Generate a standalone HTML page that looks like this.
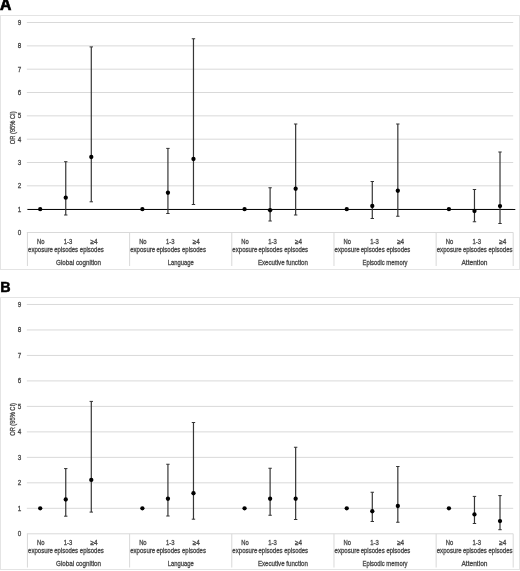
<!DOCTYPE html>
<html><head><meta charset="utf-8"><title>Figure</title>
<style>html,body{margin:0;padding:0;background:#fff;}body{width:520px;height:571px;overflow:hidden;font-family:"Liberation Sans",sans-serif;}svg{display:block;will-change:transform;opacity:0.999;}</style>
</head><body>
<svg width="520" height="571" viewBox="0 0 520 571">
<rect width="520" height="571" fill="#fff"/>
<text transform="translate(0.1,10.3) scale(1.0,1)" font-size="15.7" fill="#000" stroke="#000" stroke-width="0.7" font-weight="bold" font-family="Liberation Sans, sans-serif">A</text>
<rect x="0.5" y="15.5" width="519" height="254.00" fill="#fff" stroke="#e4e4e4" stroke-width="1"/>
<line x1="26.83" x2="513.20" y1="232.50" y2="232.50" stroke="#d9d9d9" stroke-width="1"/>
<text x="19.60" y="235.00" font-size="7" fill="#484848" text-anchor="middle" stroke="#484848" stroke-width="0.3" font-family="Liberation Sans, sans-serif" textLength="3.5" lengthAdjust="spacingAndGlyphs" >0</text>
<line x1="26.83" x2="513.20" y1="209.17" y2="209.17" stroke="#d9d9d9" stroke-width="1"/>
<text x="19.60" y="211.67" font-size="7" fill="#484848" text-anchor="middle" stroke="#484848" stroke-width="0.3" font-family="Liberation Sans, sans-serif" textLength="3.5" lengthAdjust="spacingAndGlyphs" >1</text>
<line x1="26.83" x2="513.20" y1="185.84" y2="185.84" stroke="#d9d9d9" stroke-width="1"/>
<text x="19.60" y="188.34" font-size="7" fill="#484848" text-anchor="middle" stroke="#484848" stroke-width="0.3" font-family="Liberation Sans, sans-serif" textLength="3.5" lengthAdjust="spacingAndGlyphs" >2</text>
<line x1="26.83" x2="513.20" y1="162.51" y2="162.51" stroke="#d9d9d9" stroke-width="1"/>
<text x="19.60" y="165.01" font-size="7" fill="#484848" text-anchor="middle" stroke="#484848" stroke-width="0.3" font-family="Liberation Sans, sans-serif" textLength="3.5" lengthAdjust="spacingAndGlyphs" >3</text>
<line x1="26.83" x2="513.20" y1="139.18" y2="139.18" stroke="#d9d9d9" stroke-width="1"/>
<text x="19.60" y="141.68" font-size="7" fill="#484848" text-anchor="middle" stroke="#484848" stroke-width="0.3" font-family="Liberation Sans, sans-serif" textLength="3.5" lengthAdjust="spacingAndGlyphs" >4</text>
<line x1="26.83" x2="513.20" y1="115.85" y2="115.85" stroke="#d9d9d9" stroke-width="1"/>
<text x="19.60" y="118.35" font-size="7" fill="#484848" text-anchor="middle" stroke="#484848" stroke-width="0.3" font-family="Liberation Sans, sans-serif" textLength="3.5" lengthAdjust="spacingAndGlyphs" >5</text>
<line x1="26.83" x2="513.20" y1="92.52" y2="92.52" stroke="#d9d9d9" stroke-width="1"/>
<text x="19.60" y="95.02" font-size="7" fill="#484848" text-anchor="middle" stroke="#484848" stroke-width="0.3" font-family="Liberation Sans, sans-serif" textLength="3.5" lengthAdjust="spacingAndGlyphs" >6</text>
<line x1="26.83" x2="513.20" y1="69.19" y2="69.19" stroke="#d9d9d9" stroke-width="1"/>
<text x="19.60" y="71.69" font-size="7" fill="#484848" text-anchor="middle" stroke="#484848" stroke-width="0.3" font-family="Liberation Sans, sans-serif" textLength="3.5" lengthAdjust="spacingAndGlyphs" >7</text>
<line x1="26.83" x2="513.20" y1="45.86" y2="45.86" stroke="#d9d9d9" stroke-width="1"/>
<text x="19.60" y="48.36" font-size="7" fill="#484848" text-anchor="middle" stroke="#484848" stroke-width="0.3" font-family="Liberation Sans, sans-serif" textLength="3.5" lengthAdjust="spacingAndGlyphs" >8</text>
<line x1="26.83" x2="513.20" y1="22.53" y2="22.53" stroke="#d9d9d9" stroke-width="1"/>
<text x="19.60" y="25.03" font-size="7" fill="#484848" text-anchor="middle" stroke="#484848" stroke-width="0.3" font-family="Liberation Sans, sans-serif" textLength="3.5" lengthAdjust="spacingAndGlyphs" >9</text>
<text transform="translate(14.8,127.82) rotate(-90)" font-size="7" fill="#484848" stroke="#484848" stroke-width="0.3" text-anchor="middle" font-family="Liberation Sans, sans-serif" textLength="32.8" lengthAdjust="spacingAndGlyphs">OR (95% CI)</text>
<line x1="27.43" x2="27.43" y1="232.50" y2="266.0" stroke="#d9d9d9" stroke-width="1"/>
<line x1="129.61" x2="129.61" y1="232.50" y2="266.0" stroke="#d9d9d9" stroke-width="1"/>
<line x1="231.79" x2="231.79" y1="232.50" y2="266.0" stroke="#d9d9d9" stroke-width="1"/>
<line x1="333.97" x2="333.97" y1="232.50" y2="266.0" stroke="#d9d9d9" stroke-width="1"/>
<line x1="436.15" x2="436.15" y1="232.50" y2="266.0" stroke="#d9d9d9" stroke-width="1"/>
<line x1="513.20" x2="513.20" y1="232.50" y2="266.0" stroke="#d9d9d9" stroke-width="1"/>
<text x="40.70" y="244.00" font-size="7" fill="#484848" text-anchor="middle" stroke="#484848" stroke-width="0.3" font-family="Liberation Sans, sans-serif" textLength="7.5" lengthAdjust="spacingAndGlyphs" >No</text>
<text x="40.50" y="252.40" font-size="7" fill="#484848" text-anchor="middle" stroke="#484848" stroke-width="0.3" font-family="Liberation Sans, sans-serif" textLength="25.0" lengthAdjust="spacingAndGlyphs" >exposure</text>
<text x="68.05" y="244.00" font-size="7" fill="#484848" text-anchor="middle" stroke="#484848" stroke-width="0.3" font-family="Liberation Sans, sans-serif" textLength="8.5" lengthAdjust="spacingAndGlyphs" >1-3</text>
<text x="66.15" y="252.40" font-size="7" fill="#484848" text-anchor="middle" stroke="#484848" stroke-width="0.3" font-family="Liberation Sans, sans-serif" textLength="23.9" lengthAdjust="spacingAndGlyphs" >episodes</text>
<text x="94.09" y="244.00" font-size="7" fill="#484848" text-anchor="middle" stroke="#484848" stroke-width="0.3" font-family="Liberation Sans, sans-serif" textLength="7" lengthAdjust="spacingAndGlyphs" >≥4</text>
<text x="91.79" y="252.40" font-size="7" fill="#484848" text-anchor="middle" stroke="#484848" stroke-width="0.3" font-family="Liberation Sans, sans-serif" textLength="23.9" lengthAdjust="spacingAndGlyphs" >episodes</text>
<text x="78.52" y="264.90" font-size="7" fill="#484848" text-anchor="middle" stroke="#484848" stroke-width="0.3" font-family="Liberation Sans, sans-serif" textLength="45" lengthAdjust="spacingAndGlyphs" >Global cognition</text>
<text x="142.88" y="244.00" font-size="7" fill="#484848" text-anchor="middle" stroke="#484848" stroke-width="0.3" font-family="Liberation Sans, sans-serif" textLength="7.5" lengthAdjust="spacingAndGlyphs" >No</text>
<text x="142.68" y="252.40" font-size="7" fill="#484848" text-anchor="middle" stroke="#484848" stroke-width="0.3" font-family="Liberation Sans, sans-serif" textLength="25.0" lengthAdjust="spacingAndGlyphs" >exposure</text>
<text x="170.23" y="244.00" font-size="7" fill="#484848" text-anchor="middle" stroke="#484848" stroke-width="0.3" font-family="Liberation Sans, sans-serif" textLength="8.5" lengthAdjust="spacingAndGlyphs" >1-3</text>
<text x="168.33" y="252.40" font-size="7" fill="#484848" text-anchor="middle" stroke="#484848" stroke-width="0.3" font-family="Liberation Sans, sans-serif" textLength="23.9" lengthAdjust="spacingAndGlyphs" >episodes</text>
<text x="196.27" y="244.00" font-size="7" fill="#484848" text-anchor="middle" stroke="#484848" stroke-width="0.3" font-family="Liberation Sans, sans-serif" textLength="7" lengthAdjust="spacingAndGlyphs" >≥4</text>
<text x="193.97" y="252.40" font-size="7" fill="#484848" text-anchor="middle" stroke="#484848" stroke-width="0.3" font-family="Liberation Sans, sans-serif" textLength="23.9" lengthAdjust="spacingAndGlyphs" >episodes</text>
<text x="180.70" y="264.90" font-size="7" fill="#484848" text-anchor="middle" stroke="#484848" stroke-width="0.3" font-family="Liberation Sans, sans-serif" textLength="26" lengthAdjust="spacingAndGlyphs" >Language</text>
<text x="245.06" y="244.00" font-size="7" fill="#484848" text-anchor="middle" stroke="#484848" stroke-width="0.3" font-family="Liberation Sans, sans-serif" textLength="7.5" lengthAdjust="spacingAndGlyphs" >No</text>
<text x="244.86" y="252.40" font-size="7" fill="#484848" text-anchor="middle" stroke="#484848" stroke-width="0.3" font-family="Liberation Sans, sans-serif" textLength="25.0" lengthAdjust="spacingAndGlyphs" >exposure</text>
<text x="272.41" y="244.00" font-size="7" fill="#484848" text-anchor="middle" stroke="#484848" stroke-width="0.3" font-family="Liberation Sans, sans-serif" textLength="8.5" lengthAdjust="spacingAndGlyphs" >1-3</text>
<text x="270.50" y="252.40" font-size="7" fill="#484848" text-anchor="middle" stroke="#484848" stroke-width="0.3" font-family="Liberation Sans, sans-serif" textLength="23.9" lengthAdjust="spacingAndGlyphs" >episodes</text>
<text x="298.45" y="244.00" font-size="7" fill="#484848" text-anchor="middle" stroke="#484848" stroke-width="0.3" font-family="Liberation Sans, sans-serif" textLength="7" lengthAdjust="spacingAndGlyphs" >≥4</text>
<text x="296.15" y="252.40" font-size="7" fill="#484848" text-anchor="middle" stroke="#484848" stroke-width="0.3" font-family="Liberation Sans, sans-serif" textLength="23.9" lengthAdjust="spacingAndGlyphs" >episodes</text>
<text x="282.88" y="264.90" font-size="7" fill="#484848" text-anchor="middle" stroke="#484848" stroke-width="0.3" font-family="Liberation Sans, sans-serif" textLength="50" lengthAdjust="spacingAndGlyphs" >Executive function</text>
<text x="347.24" y="244.00" font-size="7" fill="#484848" text-anchor="middle" stroke="#484848" stroke-width="0.3" font-family="Liberation Sans, sans-serif" textLength="7.5" lengthAdjust="spacingAndGlyphs" >No</text>
<text x="347.04" y="252.40" font-size="7" fill="#484848" text-anchor="middle" stroke="#484848" stroke-width="0.3" font-family="Liberation Sans, sans-serif" textLength="25.0" lengthAdjust="spacingAndGlyphs" >exposure</text>
<text x="374.59" y="244.00" font-size="7" fill="#484848" text-anchor="middle" stroke="#484848" stroke-width="0.3" font-family="Liberation Sans, sans-serif" textLength="8.5" lengthAdjust="spacingAndGlyphs" >1-3</text>
<text x="372.69" y="252.40" font-size="7" fill="#484848" text-anchor="middle" stroke="#484848" stroke-width="0.3" font-family="Liberation Sans, sans-serif" textLength="23.9" lengthAdjust="spacingAndGlyphs" >episodes</text>
<text x="400.63" y="244.00" font-size="7" fill="#484848" text-anchor="middle" stroke="#484848" stroke-width="0.3" font-family="Liberation Sans, sans-serif" textLength="7" lengthAdjust="spacingAndGlyphs" >≥4</text>
<text x="398.33" y="252.40" font-size="7" fill="#484848" text-anchor="middle" stroke="#484848" stroke-width="0.3" font-family="Liberation Sans, sans-serif" textLength="23.9" lengthAdjust="spacingAndGlyphs" >episodes</text>
<text x="385.06" y="264.90" font-size="7" fill="#484848" text-anchor="middle" stroke="#484848" stroke-width="0.3" font-family="Liberation Sans, sans-serif" textLength="45" lengthAdjust="spacingAndGlyphs" >Episodic memory</text>
<text x="449.42" y="244.00" font-size="7" fill="#484848" text-anchor="middle" stroke="#484848" stroke-width="0.3" font-family="Liberation Sans, sans-serif" textLength="7.5" lengthAdjust="spacingAndGlyphs" >No</text>
<text x="449.22" y="252.40" font-size="7" fill="#484848" text-anchor="middle" stroke="#484848" stroke-width="0.3" font-family="Liberation Sans, sans-serif" textLength="25.0" lengthAdjust="spacingAndGlyphs" >exposure</text>
<text x="476.77" y="244.00" font-size="7" fill="#484848" text-anchor="middle" stroke="#484848" stroke-width="0.3" font-family="Liberation Sans, sans-serif" textLength="8.5" lengthAdjust="spacingAndGlyphs" >1-3</text>
<text x="474.87" y="252.40" font-size="7" fill="#484848" text-anchor="middle" stroke="#484848" stroke-width="0.3" font-family="Liberation Sans, sans-serif" textLength="23.9" lengthAdjust="spacingAndGlyphs" >episodes</text>
<text x="502.81" y="244.00" font-size="7" fill="#484848" text-anchor="middle" stroke="#484848" stroke-width="0.3" font-family="Liberation Sans, sans-serif" textLength="7" lengthAdjust="spacingAndGlyphs" >≥4</text>
<text x="500.51" y="252.40" font-size="7" fill="#484848" text-anchor="middle" stroke="#484848" stroke-width="0.3" font-family="Liberation Sans, sans-serif" textLength="23.9" lengthAdjust="spacingAndGlyphs" >episodes</text>
<text x="474.47" y="264.90" font-size="7" fill="#484848" text-anchor="middle" stroke="#484848" stroke-width="0.3" font-family="Liberation Sans, sans-serif" textLength="26" lengthAdjust="spacingAndGlyphs" >Attention</text>
<line x1="27.43" x2="515.3" y1="209.50" y2="209.50" stroke="#0a0a0a" stroke-width="1"/>
<circle cx="40.20" cy="209.17" r="2.15" fill="#000"/>
<circle cx="142.38" cy="209.17" r="2.15" fill="#000"/>
<circle cx="244.56" cy="209.17" r="2.15" fill="#000"/>
<circle cx="346.74" cy="209.17" r="2.15" fill="#000"/>
<circle cx="448.92" cy="209.17" r="2.15" fill="#000"/>
<line x1="65.75" x2="65.75" y1="161.70" y2="215.00" stroke="#363636" stroke-width="1.2"/>
<line x1="64.05" x2="67.45" y1="161.70" y2="161.70" stroke="#333" stroke-width="1"/>
<line x1="64.05" x2="67.45" y1="215.00" y2="215.00" stroke="#333" stroke-width="1"/>
<circle cx="65.75" cy="197.70" r="2.15" fill="#000"/>
<line x1="91.29" x2="91.29" y1="46.90" y2="201.80" stroke="#363636" stroke-width="1.2"/>
<line x1="89.59" x2="92.99" y1="46.90" y2="46.90" stroke="#333" stroke-width="1"/>
<line x1="89.59" x2="92.99" y1="201.80" y2="201.80" stroke="#333" stroke-width="1"/>
<circle cx="91.29" cy="157.00" r="2.15" fill="#000"/>
<line x1="167.93" x2="167.93" y1="148.40" y2="213.50" stroke="#363636" stroke-width="1.2"/>
<line x1="166.23" x2="169.62" y1="148.40" y2="148.40" stroke="#333" stroke-width="1"/>
<line x1="166.23" x2="169.62" y1="213.50" y2="213.50" stroke="#333" stroke-width="1"/>
<circle cx="167.93" cy="192.75" r="2.15" fill="#000"/>
<line x1="193.47" x2="193.47" y1="38.75" y2="204.50" stroke="#363636" stroke-width="1.2"/>
<line x1="191.77" x2="195.17" y1="38.75" y2="38.75" stroke="#333" stroke-width="1"/>
<line x1="191.77" x2="195.17" y1="204.50" y2="204.50" stroke="#333" stroke-width="1"/>
<circle cx="193.47" cy="159.00" r="2.15" fill="#000"/>
<line x1="270.11" x2="270.11" y1="187.75" y2="221.00" stroke="#363636" stroke-width="1.2"/>
<line x1="268.41" x2="271.81" y1="187.75" y2="187.75" stroke="#333" stroke-width="1"/>
<line x1="268.41" x2="271.81" y1="221.00" y2="221.00" stroke="#333" stroke-width="1"/>
<circle cx="270.11" cy="210.25" r="2.15" fill="#000"/>
<line x1="295.65" x2="295.65" y1="124.00" y2="215.00" stroke="#363636" stroke-width="1.2"/>
<line x1="293.95" x2="297.35" y1="124.00" y2="124.00" stroke="#333" stroke-width="1"/>
<line x1="293.95" x2="297.35" y1="215.00" y2="215.00" stroke="#333" stroke-width="1"/>
<circle cx="295.65" cy="188.75" r="2.15" fill="#000"/>
<line x1="372.29" x2="372.29" y1="181.50" y2="218.50" stroke="#363636" stroke-width="1.2"/>
<line x1="370.59" x2="373.99" y1="181.50" y2="181.50" stroke="#333" stroke-width="1"/>
<line x1="370.59" x2="373.99" y1="218.50" y2="218.50" stroke="#333" stroke-width="1"/>
<circle cx="372.29" cy="206.00" r="2.15" fill="#000"/>
<line x1="397.83" x2="397.83" y1="124.00" y2="216.25" stroke="#363636" stroke-width="1.2"/>
<line x1="396.13" x2="399.53" y1="124.00" y2="124.00" stroke="#333" stroke-width="1"/>
<line x1="396.13" x2="399.53" y1="216.25" y2="216.25" stroke="#333" stroke-width="1"/>
<circle cx="397.83" cy="190.75" r="2.15" fill="#000"/>
<line x1="474.47" x2="474.47" y1="189.50" y2="221.75" stroke="#363636" stroke-width="1.2"/>
<line x1="472.77" x2="476.17" y1="189.50" y2="189.50" stroke="#333" stroke-width="1"/>
<line x1="472.77" x2="476.17" y1="221.75" y2="221.75" stroke="#333" stroke-width="1"/>
<circle cx="474.47" cy="211.00" r="2.15" fill="#000"/>
<line x1="500.01" x2="500.01" y1="152.00" y2="223.50" stroke="#363636" stroke-width="1.2"/>
<line x1="498.31" x2="501.71" y1="152.00" y2="152.00" stroke="#333" stroke-width="1"/>
<line x1="498.31" x2="501.71" y1="223.50" y2="223.50" stroke="#333" stroke-width="1"/>
<circle cx="500.01" cy="206.10" r="2.15" fill="#000"/>
<text transform="translate(0.3,291.6) scale(0.95,1)" font-size="15.1" fill="#000" stroke="#000" stroke-width="0.5" font-weight="bold" font-family="Liberation Sans, sans-serif">B</text>
<rect x="0.5" y="297.5" width="519" height="272.00" fill="#fff" stroke="#e4e4e4" stroke-width="1"/>
<line x1="26.83" x2="513.20" y1="533.80" y2="533.80" stroke="#d9d9d9" stroke-width="1"/>
<text x="19.60" y="536.30" font-size="7" fill="#484848" text-anchor="middle" stroke="#484848" stroke-width="0.3" font-family="Liberation Sans, sans-serif" textLength="3.5" lengthAdjust="spacingAndGlyphs" >0</text>
<line x1="26.83" x2="513.20" y1="508.32" y2="508.32" stroke="#d9d9d9" stroke-width="1"/>
<text x="19.60" y="510.82" font-size="7" fill="#484848" text-anchor="middle" stroke="#484848" stroke-width="0.3" font-family="Liberation Sans, sans-serif" textLength="3.5" lengthAdjust="spacingAndGlyphs" >1</text>
<line x1="26.83" x2="513.20" y1="482.84" y2="482.84" stroke="#d9d9d9" stroke-width="1"/>
<text x="19.60" y="485.34" font-size="7" fill="#484848" text-anchor="middle" stroke="#484848" stroke-width="0.3" font-family="Liberation Sans, sans-serif" textLength="3.5" lengthAdjust="spacingAndGlyphs" >2</text>
<line x1="26.83" x2="513.20" y1="457.36" y2="457.36" stroke="#d9d9d9" stroke-width="1"/>
<text x="19.60" y="459.86" font-size="7" fill="#484848" text-anchor="middle" stroke="#484848" stroke-width="0.3" font-family="Liberation Sans, sans-serif" textLength="3.5" lengthAdjust="spacingAndGlyphs" >3</text>
<line x1="26.83" x2="513.20" y1="431.88" y2="431.88" stroke="#d9d9d9" stroke-width="1"/>
<text x="19.60" y="434.38" font-size="7" fill="#484848" text-anchor="middle" stroke="#484848" stroke-width="0.3" font-family="Liberation Sans, sans-serif" textLength="3.5" lengthAdjust="spacingAndGlyphs" >4</text>
<line x1="26.83" x2="513.20" y1="406.40" y2="406.40" stroke="#d9d9d9" stroke-width="1"/>
<text x="19.60" y="408.90" font-size="7" fill="#484848" text-anchor="middle" stroke="#484848" stroke-width="0.3" font-family="Liberation Sans, sans-serif" textLength="3.5" lengthAdjust="spacingAndGlyphs" >5</text>
<line x1="26.83" x2="513.20" y1="380.92" y2="380.92" stroke="#d9d9d9" stroke-width="1"/>
<text x="19.60" y="383.42" font-size="7" fill="#484848" text-anchor="middle" stroke="#484848" stroke-width="0.3" font-family="Liberation Sans, sans-serif" textLength="3.5" lengthAdjust="spacingAndGlyphs" >6</text>
<line x1="26.83" x2="513.20" y1="355.44" y2="355.44" stroke="#d9d9d9" stroke-width="1"/>
<text x="19.60" y="357.94" font-size="7" fill="#484848" text-anchor="middle" stroke="#484848" stroke-width="0.3" font-family="Liberation Sans, sans-serif" textLength="3.5" lengthAdjust="spacingAndGlyphs" >7</text>
<line x1="26.83" x2="513.20" y1="329.96" y2="329.96" stroke="#d9d9d9" stroke-width="1"/>
<text x="19.60" y="332.46" font-size="7" fill="#484848" text-anchor="middle" stroke="#484848" stroke-width="0.3" font-family="Liberation Sans, sans-serif" textLength="3.5" lengthAdjust="spacingAndGlyphs" >8</text>
<line x1="26.83" x2="513.20" y1="304.48" y2="304.48" stroke="#d9d9d9" stroke-width="1"/>
<text x="19.60" y="306.98" font-size="7" fill="#484848" text-anchor="middle" stroke="#484848" stroke-width="0.3" font-family="Liberation Sans, sans-serif" textLength="3.5" lengthAdjust="spacingAndGlyphs" >9</text>
<text transform="translate(14.8,419.44) rotate(-90)" font-size="7" fill="#484848" stroke="#484848" stroke-width="0.3" text-anchor="middle" font-family="Liberation Sans, sans-serif" textLength="32.8" lengthAdjust="spacingAndGlyphs">OR (95% CI)</text>
<line x1="27.43" x2="27.43" y1="533.80" y2="567.5" stroke="#d9d9d9" stroke-width="1"/>
<line x1="129.61" x2="129.61" y1="533.80" y2="567.5" stroke="#d9d9d9" stroke-width="1"/>
<line x1="231.79" x2="231.79" y1="533.80" y2="567.5" stroke="#d9d9d9" stroke-width="1"/>
<line x1="333.97" x2="333.97" y1="533.80" y2="567.5" stroke="#d9d9d9" stroke-width="1"/>
<line x1="436.15" x2="436.15" y1="533.80" y2="567.5" stroke="#d9d9d9" stroke-width="1"/>
<line x1="513.20" x2="513.20" y1="533.80" y2="567.5" stroke="#d9d9d9" stroke-width="1"/>
<text x="40.70" y="544.70" font-size="7" fill="#484848" text-anchor="middle" stroke="#484848" stroke-width="0.3" font-family="Liberation Sans, sans-serif" textLength="7.5" lengthAdjust="spacingAndGlyphs" >No</text>
<text x="40.50" y="552.90" font-size="7" fill="#484848" text-anchor="middle" stroke="#484848" stroke-width="0.3" font-family="Liberation Sans, sans-serif" textLength="25.0" lengthAdjust="spacingAndGlyphs" >exposure</text>
<text x="68.05" y="544.70" font-size="7" fill="#484848" text-anchor="middle" stroke="#484848" stroke-width="0.3" font-family="Liberation Sans, sans-serif" textLength="8.5" lengthAdjust="spacingAndGlyphs" >1-3</text>
<text x="66.15" y="552.90" font-size="7" fill="#484848" text-anchor="middle" stroke="#484848" stroke-width="0.3" font-family="Liberation Sans, sans-serif" textLength="23.9" lengthAdjust="spacingAndGlyphs" >episodes</text>
<text x="94.09" y="544.70" font-size="7" fill="#484848" text-anchor="middle" stroke="#484848" stroke-width="0.3" font-family="Liberation Sans, sans-serif" textLength="7" lengthAdjust="spacingAndGlyphs" >≥4</text>
<text x="91.79" y="552.90" font-size="7" fill="#484848" text-anchor="middle" stroke="#484848" stroke-width="0.3" font-family="Liberation Sans, sans-serif" textLength="23.9" lengthAdjust="spacingAndGlyphs" >episodes</text>
<text x="78.52" y="565.70" font-size="7" fill="#484848" text-anchor="middle" stroke="#484848" stroke-width="0.3" font-family="Liberation Sans, sans-serif" textLength="45" lengthAdjust="spacingAndGlyphs" >Global cognition</text>
<text x="142.88" y="544.70" font-size="7" fill="#484848" text-anchor="middle" stroke="#484848" stroke-width="0.3" font-family="Liberation Sans, sans-serif" textLength="7.5" lengthAdjust="spacingAndGlyphs" >No</text>
<text x="142.68" y="552.90" font-size="7" fill="#484848" text-anchor="middle" stroke="#484848" stroke-width="0.3" font-family="Liberation Sans, sans-serif" textLength="25.0" lengthAdjust="spacingAndGlyphs" >exposure</text>
<text x="170.23" y="544.70" font-size="7" fill="#484848" text-anchor="middle" stroke="#484848" stroke-width="0.3" font-family="Liberation Sans, sans-serif" textLength="8.5" lengthAdjust="spacingAndGlyphs" >1-3</text>
<text x="168.33" y="552.90" font-size="7" fill="#484848" text-anchor="middle" stroke="#484848" stroke-width="0.3" font-family="Liberation Sans, sans-serif" textLength="23.9" lengthAdjust="spacingAndGlyphs" >episodes</text>
<text x="196.27" y="544.70" font-size="7" fill="#484848" text-anchor="middle" stroke="#484848" stroke-width="0.3" font-family="Liberation Sans, sans-serif" textLength="7" lengthAdjust="spacingAndGlyphs" >≥4</text>
<text x="193.97" y="552.90" font-size="7" fill="#484848" text-anchor="middle" stroke="#484848" stroke-width="0.3" font-family="Liberation Sans, sans-serif" textLength="23.9" lengthAdjust="spacingAndGlyphs" >episodes</text>
<text x="180.70" y="565.70" font-size="7" fill="#484848" text-anchor="middle" stroke="#484848" stroke-width="0.3" font-family="Liberation Sans, sans-serif" textLength="26" lengthAdjust="spacingAndGlyphs" >Language</text>
<text x="245.06" y="544.70" font-size="7" fill="#484848" text-anchor="middle" stroke="#484848" stroke-width="0.3" font-family="Liberation Sans, sans-serif" textLength="7.5" lengthAdjust="spacingAndGlyphs" >No</text>
<text x="244.86" y="552.90" font-size="7" fill="#484848" text-anchor="middle" stroke="#484848" stroke-width="0.3" font-family="Liberation Sans, sans-serif" textLength="25.0" lengthAdjust="spacingAndGlyphs" >exposure</text>
<text x="272.41" y="544.70" font-size="7" fill="#484848" text-anchor="middle" stroke="#484848" stroke-width="0.3" font-family="Liberation Sans, sans-serif" textLength="8.5" lengthAdjust="spacingAndGlyphs" >1-3</text>
<text x="270.50" y="552.90" font-size="7" fill="#484848" text-anchor="middle" stroke="#484848" stroke-width="0.3" font-family="Liberation Sans, sans-serif" textLength="23.9" lengthAdjust="spacingAndGlyphs" >episodes</text>
<text x="298.45" y="544.70" font-size="7" fill="#484848" text-anchor="middle" stroke="#484848" stroke-width="0.3" font-family="Liberation Sans, sans-serif" textLength="7" lengthAdjust="spacingAndGlyphs" >≥4</text>
<text x="296.15" y="552.90" font-size="7" fill="#484848" text-anchor="middle" stroke="#484848" stroke-width="0.3" font-family="Liberation Sans, sans-serif" textLength="23.9" lengthAdjust="spacingAndGlyphs" >episodes</text>
<text x="282.88" y="565.70" font-size="7" fill="#484848" text-anchor="middle" stroke="#484848" stroke-width="0.3" font-family="Liberation Sans, sans-serif" textLength="50" lengthAdjust="spacingAndGlyphs" >Executive function</text>
<text x="347.24" y="544.70" font-size="7" fill="#484848" text-anchor="middle" stroke="#484848" stroke-width="0.3" font-family="Liberation Sans, sans-serif" textLength="7.5" lengthAdjust="spacingAndGlyphs" >No</text>
<text x="347.04" y="552.90" font-size="7" fill="#484848" text-anchor="middle" stroke="#484848" stroke-width="0.3" font-family="Liberation Sans, sans-serif" textLength="25.0" lengthAdjust="spacingAndGlyphs" >exposure</text>
<text x="374.59" y="544.70" font-size="7" fill="#484848" text-anchor="middle" stroke="#484848" stroke-width="0.3" font-family="Liberation Sans, sans-serif" textLength="8.5" lengthAdjust="spacingAndGlyphs" >1-3</text>
<text x="372.69" y="552.90" font-size="7" fill="#484848" text-anchor="middle" stroke="#484848" stroke-width="0.3" font-family="Liberation Sans, sans-serif" textLength="23.9" lengthAdjust="spacingAndGlyphs" >episodes</text>
<text x="400.63" y="544.70" font-size="7" fill="#484848" text-anchor="middle" stroke="#484848" stroke-width="0.3" font-family="Liberation Sans, sans-serif" textLength="7" lengthAdjust="spacingAndGlyphs" >≥4</text>
<text x="398.33" y="552.90" font-size="7" fill="#484848" text-anchor="middle" stroke="#484848" stroke-width="0.3" font-family="Liberation Sans, sans-serif" textLength="23.9" lengthAdjust="spacingAndGlyphs" >episodes</text>
<text x="385.06" y="565.70" font-size="7" fill="#484848" text-anchor="middle" stroke="#484848" stroke-width="0.3" font-family="Liberation Sans, sans-serif" textLength="45" lengthAdjust="spacingAndGlyphs" >Episodic memory</text>
<text x="449.42" y="544.70" font-size="7" fill="#484848" text-anchor="middle" stroke="#484848" stroke-width="0.3" font-family="Liberation Sans, sans-serif" textLength="7.5" lengthAdjust="spacingAndGlyphs" >No</text>
<text x="449.22" y="552.90" font-size="7" fill="#484848" text-anchor="middle" stroke="#484848" stroke-width="0.3" font-family="Liberation Sans, sans-serif" textLength="25.0" lengthAdjust="spacingAndGlyphs" >exposure</text>
<text x="476.77" y="544.70" font-size="7" fill="#484848" text-anchor="middle" stroke="#484848" stroke-width="0.3" font-family="Liberation Sans, sans-serif" textLength="8.5" lengthAdjust="spacingAndGlyphs" >1-3</text>
<text x="474.87" y="552.90" font-size="7" fill="#484848" text-anchor="middle" stroke="#484848" stroke-width="0.3" font-family="Liberation Sans, sans-serif" textLength="23.9" lengthAdjust="spacingAndGlyphs" >episodes</text>
<text x="502.81" y="544.70" font-size="7" fill="#484848" text-anchor="middle" stroke="#484848" stroke-width="0.3" font-family="Liberation Sans, sans-serif" textLength="7" lengthAdjust="spacingAndGlyphs" >≥4</text>
<text x="500.51" y="552.90" font-size="7" fill="#484848" text-anchor="middle" stroke="#484848" stroke-width="0.3" font-family="Liberation Sans, sans-serif" textLength="23.9" lengthAdjust="spacingAndGlyphs" >episodes</text>
<text x="474.47" y="565.70" font-size="7" fill="#484848" text-anchor="middle" stroke="#484848" stroke-width="0.3" font-family="Liberation Sans, sans-serif" textLength="26" lengthAdjust="spacingAndGlyphs" >Attention</text>
<circle cx="40.20" cy="508.32" r="2.15" fill="#000"/>
<circle cx="142.38" cy="508.32" r="2.15" fill="#000"/>
<circle cx="244.56" cy="508.32" r="2.15" fill="#000"/>
<circle cx="346.74" cy="508.32" r="2.15" fill="#000"/>
<circle cx="448.92" cy="508.32" r="2.15" fill="#000"/>
<line x1="65.75" x2="65.75" y1="468.60" y2="516.20" stroke="#363636" stroke-width="1.2"/>
<line x1="64.05" x2="67.45" y1="468.60" y2="468.60" stroke="#333" stroke-width="1"/>
<line x1="64.05" x2="67.45" y1="516.20" y2="516.20" stroke="#333" stroke-width="1"/>
<circle cx="65.75" cy="499.50" r="2.15" fill="#000"/>
<line x1="91.29" x2="91.29" y1="401.40" y2="512.10" stroke="#363636" stroke-width="1.2"/>
<line x1="89.59" x2="92.99" y1="401.40" y2="401.40" stroke="#333" stroke-width="1"/>
<line x1="89.59" x2="92.99" y1="512.10" y2="512.10" stroke="#333" stroke-width="1"/>
<circle cx="91.29" cy="479.90" r="2.15" fill="#000"/>
<line x1="167.93" x2="167.93" y1="464.25" y2="516.00" stroke="#363636" stroke-width="1.2"/>
<line x1="166.23" x2="169.62" y1="464.25" y2="464.25" stroke="#333" stroke-width="1"/>
<line x1="166.23" x2="169.62" y1="516.00" y2="516.00" stroke="#333" stroke-width="1"/>
<circle cx="167.93" cy="498.75" r="2.15" fill="#000"/>
<line x1="193.47" x2="193.47" y1="422.50" y2="519.20" stroke="#363636" stroke-width="1.2"/>
<line x1="191.77" x2="195.17" y1="422.50" y2="422.50" stroke="#333" stroke-width="1"/>
<line x1="191.77" x2="195.17" y1="519.20" y2="519.20" stroke="#333" stroke-width="1"/>
<circle cx="193.47" cy="493.25" r="2.15" fill="#000"/>
<line x1="270.11" x2="270.11" y1="468.25" y2="515.25" stroke="#363636" stroke-width="1.2"/>
<line x1="268.41" x2="271.81" y1="468.25" y2="468.25" stroke="#333" stroke-width="1"/>
<line x1="268.41" x2="271.81" y1="515.25" y2="515.25" stroke="#333" stroke-width="1"/>
<circle cx="270.11" cy="498.75" r="2.15" fill="#000"/>
<line x1="295.65" x2="295.65" y1="447.25" y2="519.50" stroke="#363636" stroke-width="1.2"/>
<line x1="293.95" x2="297.35" y1="447.25" y2="447.25" stroke="#333" stroke-width="1"/>
<line x1="293.95" x2="297.35" y1="519.50" y2="519.50" stroke="#333" stroke-width="1"/>
<circle cx="295.65" cy="498.75" r="2.15" fill="#000"/>
<line x1="372.29" x2="372.29" y1="492.25" y2="521.50" stroke="#363636" stroke-width="1.2"/>
<line x1="370.59" x2="373.99" y1="492.25" y2="492.25" stroke="#333" stroke-width="1"/>
<line x1="370.59" x2="373.99" y1="521.50" y2="521.50" stroke="#333" stroke-width="1"/>
<circle cx="372.29" cy="511.25" r="2.15" fill="#000"/>
<line x1="397.83" x2="397.83" y1="466.50" y2="522.25" stroke="#363636" stroke-width="1.2"/>
<line x1="396.13" x2="399.53" y1="466.50" y2="466.50" stroke="#333" stroke-width="1"/>
<line x1="396.13" x2="399.53" y1="522.25" y2="522.25" stroke="#333" stroke-width="1"/>
<circle cx="397.83" cy="506.00" r="2.15" fill="#000"/>
<line x1="474.47" x2="474.47" y1="496.40" y2="523.50" stroke="#363636" stroke-width="1.2"/>
<line x1="472.77" x2="476.17" y1="496.40" y2="496.40" stroke="#333" stroke-width="1"/>
<line x1="472.77" x2="476.17" y1="523.50" y2="523.50" stroke="#333" stroke-width="1"/>
<circle cx="474.47" cy="514.40" r="2.15" fill="#000"/>
<line x1="500.01" x2="500.01" y1="495.60" y2="529.70" stroke="#363636" stroke-width="1.2"/>
<line x1="498.31" x2="501.71" y1="495.60" y2="495.60" stroke="#333" stroke-width="1"/>
<line x1="498.31" x2="501.71" y1="529.70" y2="529.70" stroke="#333" stroke-width="1"/>
<circle cx="500.01" cy="521.10" r="2.15" fill="#000"/>
</svg></body></html>
